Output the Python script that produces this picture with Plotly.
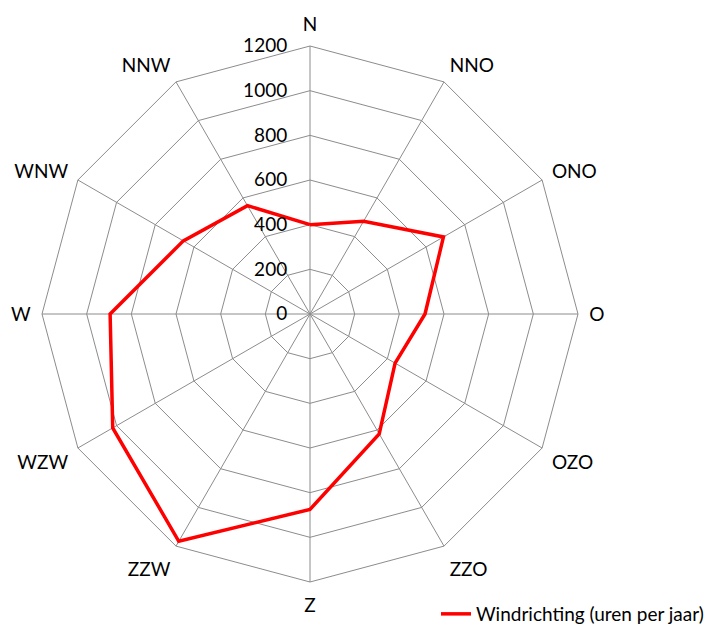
import plotly.graph_objects as go

directions = ["N", "NNO", "ONO", "O", "OZO", "ZZO", "Z", "ZZW", "WZW", "W", "WNW", "NNW"]
hours = [400, 480, 690, 515, 440, 620, 875, 1175, 1020, 895, 655, 560]
radial_ticks = [0, 200, 400, 600, 800, 1000, 1200]
series_name = "Windrichting (uren per jaar)"

grid = "#8c8c8c"
font_family = "Lato, Carlito, Calibri, sans-serif"
pad = "\u00a0" * 4

fig = go.Figure()
fig.add_trace(go.Scatterpolar(
    r=hours + [hours[0]],
    theta=directions + [directions[0]],
    mode="lines",
    line=dict(color="#ff0000", width=3.5),
    name=series_name,
    showlegend=True,
))

W, H = 726, 630
cx, cy, R = 302, 306, 268

fig.update_layout(
    width=W, height=H,
    margin=dict(l=0, r=0, t=0, b=0, autoexpand=False),
    paper_bgcolor="white",
    plot_bgcolor="white",
    font=dict(family=font_family, size=19, color="black"),
    polar=dict(
        bgcolor="white",
        gridshape="linear",
        domain=dict(x=[(cx - R) / W, (cx + R) / W], y=[(H - cy - R) / H, (H - cy + R) / H]),
        angularaxis=dict(
            type="category",
            categoryarray=directions,
            rotation=90,
            direction="clockwise",
            showline=True,
            linecolor=grid,
            linewidth=1,
            gridcolor=grid,
            gridwidth=1,
            ticks="outside",
            ticklen=7,
            tickcolor="rgba(0,0,0,0)",
            tickfont=dict(size=19, color="black"),
        ),
        radialaxis=dict(
            range=[0, 1200],
            tickvals=radial_ticks,
            ticktext=[str(v) + pad for v in radial_ticks],
            angle=90,
            tickangle=90,
            side="counterclockwise",
            showline=False,
            ticks="",
            gridcolor=grid,
            gridwidth=1,
            tickfont=dict(size=19, color="black"),
        ),
    ),
    legend=dict(
        x=428 / W, y=(H - 606) / H,
        xanchor="left", yanchor="middle",
        font=dict(size=19, color="black"),
        bgcolor="rgba(0,0,0,0)",
    ),
)

fig.write_html("out.html")
